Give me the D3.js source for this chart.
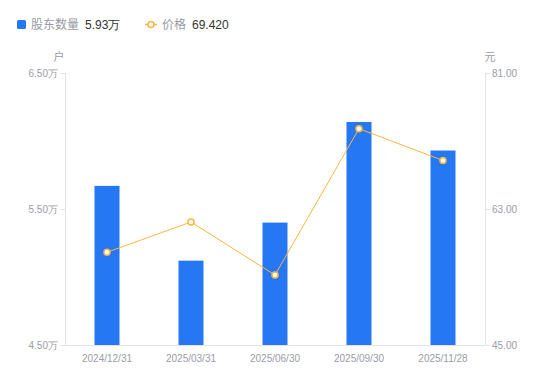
<!DOCTYPE html>
<html><head><meta charset="utf-8">
<script src="https://cdn.jsdelivr.net/npm/d3@7"></script>
<style>body{margin:0;background:#fff;font-family:"Noto Sans CJK SC","Noto Sans",sans-serif;}</style>
</head><body>
<svg id="c" width="550" height="381"></svg>
<script>
const categories = ["2024/12/31","2025/03/31","2025/06/30","2025/09/30","2025/11/28"];
const holders = [5.67, 5.12, 5.40, 6.14, 5.93]; // 万户
const prices = [57.27, 61.28, 54.26, 73.63, 69.42];
const leftTicks = [4.5, 5.5, 6.5];
const rightTicks = [45, 63, 81];

const svg = d3.select("#c");
const L = 65, R = 485, T = 73, B = 345;
const font = "Liberation Sans, Arial, sans-serif";
const gray = "#9a9ca6";

const x = d3.scaleBand().domain(categories).range([L, R]);
const yL = d3.scaleLinear().domain([4.5, 6.5]).range([B, T]);
const yR = d3.scaleLinear().domain([45, 81]).range([B, T]);

// axes lines
svg.append("line").attr("x1", L+0.5).attr("x2", L+0.5).attr("y1", T).attr("y2", B).attr("stroke", "#e3e3e6");
svg.append("line").attr("x1", R+0.5).attr("x2", R+0.5).attr("y1", T).attr("y2", B).attr("stroke", "#e3e3e6");
svg.append("line").attr("x1", L).attr("x2", R).attr("y1", B+0.5).attr("y2", B+0.5).attr("stroke", "#e3e3e6");

// left ticks
leftTicks.forEach(v => {
  const y = Math.round(yL(v)) + 0.5;
  svg.append("line").attr("x1", L-4).attr("x2", L).attr("y1", y).attr("y2", y).attr("stroke", "#e3e3e6");
  svg.append("text").attr("x", L-7).attr("y", y).attr("dy", "0.35em").attr("text-anchor", "end")
    .attr("font-family", font).attr("font-size", 10).attr("fill", gray).text(v.toFixed(2) + "万");
});
rightTicks.forEach(v => {
  const y = Math.round(yR(v)) + 0.5;
  svg.append("line").attr("x1", R+1).attr("x2", R+5).attr("y1", y).attr("y2", y).attr("stroke", "#e3e3e6");
  svg.append("text").attr("x", R+7).attr("y", y).attr("dy", "0.35em").attr("text-anchor", "start")
    .attr("font-family", font).attr("font-size", 10).attr("fill", gray).text(v.toFixed(2));
});
svg.append("text").attr("x", 59).attr("y", 61).attr("text-anchor", "middle")
  .attr("font-size", 11).attr("fill", gray).text("户");
svg.append("text").attr("x", 490).attr("y", 61).attr("text-anchor", "middle")
  .attr("font-size", 11).attr("fill", gray).text("元");

// x labels
categories.forEach(c => {
  svg.append("text").attr("x", x(c) + x.bandwidth()/2).attr("y", 362).attr("text-anchor", "middle")
    .attr("font-family", font).attr("font-size", 10).attr("fill", gray).text(c);
});

// bars
const bw = 25;
svg.selectAll("rect.bar").data(holders).enter().append("rect")
  .attr("x", (d,i) => x(categories[i]) + x.bandwidth()/2 - bw/2)
  .attr("y", d => yL(d)).attr("width", bw).attr("height", d => B - yL(d))
  .attr("fill", "#2577f3");

// line
const line = d3.line().x((d,i) => x(categories[i]) + x.bandwidth()/2).y(d => yR(d));
svg.append("path").datum(prices).attr("d", line).attr("fill", "none").attr("stroke", "#fbb640").attr("stroke-width", 1);
svg.selectAll("circle.pt").data(prices).enter().append("circle")
  .attr("cx", (d,i) => x(categories[i]) + x.bandwidth()/2).attr("cy", d => yR(d))
  .attr("r", 3).attr("fill", "#fff").attr("stroke", "#fbb640").attr("stroke-width", 1.5);

// legend
svg.append("rect").attr("x", 17).attr("y", 20).attr("width", 9).attr("height", 9).attr("rx", 1.5).attr("fill", "#2577f3");
svg.append("text").attr("x", 31).attr("y", 29).attr("font-size", 12).attr("fill", "#999aa3").text("股东数量");
svg.append("text").attr("x", 85).attr("y", 29).attr("font-family", font).attr("font-size", 12).attr("fill", "#333").text("5.93万");
svg.append("line").attr("x1", 145).attr("x2", 157).attr("y1", 24.5).attr("y2", 24.5).attr("stroke", "#fbb640").attr("stroke-width", 1.5);
svg.append("circle").attr("cx", 151).attr("cy", 24.5).attr("r", 3).attr("fill", "#fff").attr("stroke", "#fbb640").attr("stroke-width", 1.5);
svg.append("text").attr("x", 162).attr("y", 29).attr("font-size", 12).attr("fill", "#999aa3").text("价格");
svg.append("text").attr("x", 192).attr("y", 29).attr("font-family", font).attr("font-size", 12).attr("fill", "#333").text("69.420");
</script>
</body></html>
